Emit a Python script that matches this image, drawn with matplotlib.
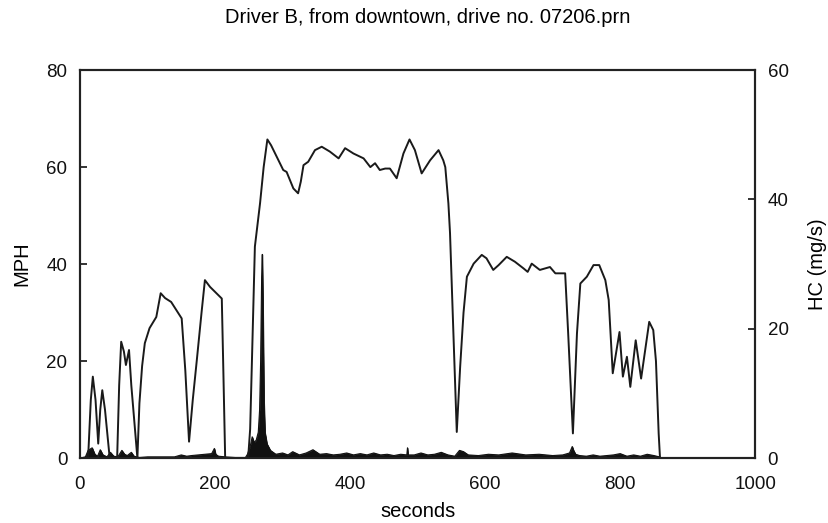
import matplotlib
matplotlib.use('Agg')
import matplotlib.pyplot as plt

plt.rcParams['font.family'] = ['Liberation Sans', 'DejaVu Sans']

# speed trace (seconds, MPH)
speed_t = [0, 12, 16, 19, 23, 27, 30, 33, 37, 44, 55, 58, 61, 65, 68, 72.6, 76, 85,
           88, 92, 96, 103, 113, 119.5, 126, 135, 150.6, 156, 161.5, 167, 173, 180, 185, 192.6, 210, 212, 215,
           249, 252, 255, 259, 266.7, 272, 277.5, 283, 289, 301, 306, 316, 323, 327, 331, 338, 348, 358, 370,
           383, 392.6, 405, 420, 430, 437, 444, 452, 459, 469, 479, 488, 496, 506, 518.5, 531,
           538, 541, 545.6, 548, 553, 558, 563, 568, 573, 583, 595, 602, 612, 620, 632, 644,
           657, 663, 669, 681, 696, 704, 718.5, 723, 730, 736, 741, 750.6, 760.5, 769, 778,
           783, 789, 799, 804, 810, 815, 823, 831, 843, 849, 853, 857, 859]
speed_v = [0, 0, 12, 16.8, 12, 3, 10, 14, 10, 0, 0, 15, 24, 22, 19.2, 22.3, 15, 0,
           11.3, 19, 23.7, 26.8, 29.1, 34, 33, 32.2, 28.8, 18, 3.4, 12, 20.2, 30, 36.7, 35.3, 32.9, 20, 0,
           0, 6, 22, 43.6, 52.6, 60, 65.7, 64.5, 62.8, 59.4, 59, 55.6, 54.6, 57, 60.4, 61.1, 63.5, 64.2, 63.2,
           61.8, 63.9, 62.8, 61.8, 60, 60.8, 59.4, 59.7, 59.7, 57.7, 62.8, 65.7, 63.5, 58.7, 61.4, 63.5,
           61.4, 60, 52.5, 46.4, 25.8, 5.4, 18.8, 30, 37.4, 40.1, 41.9, 41.2, 38.8, 39.8, 41.5, 40.5,
           39.1, 38.4, 40.1, 38.8, 39.4, 38.1, 38.1, 25.7, 5.1, 25.7, 36, 37.4, 39.8, 39.8, 36.7,
           32.6, 17.5, 26, 16.8, 20.9, 14.7, 24.3, 16.4, 28.1, 26.4, 20, 5.1, 0]

# HC emissions (seconds, mg/s)
hc_t = [0, 8, 12, 18, 22, 26, 30, 34, 40, 45, 50, 56, 62, 66, 70, 76, 80, 88,
        100, 120, 140, 150, 158, 165, 175, 185, 195, 199, 201, 205, 215, 230, 245,
        248, 252, 255, 258, 261, 264, 266, 267.5, 269, 270, 271, 272.5, 274, 277, 282,
        290, 300, 308, 315, 325, 335, 345, 355, 365, 375, 385, 395, 405, 415, 425,
        435, 445, 455, 465, 475, 484, 485, 486, 495, 505, 515, 525, 535, 545, 555,
        562, 568, 575, 590, 605, 620, 640, 660, 680, 700, 715, 725, 729, 731, 734,
        740, 750, 760, 770, 780, 790, 800, 810, 820, 830, 840, 850, 858, 862]
hc_v = [0, 0.2, 1.2, 1.6, 0.6, 0.3, 1.3, 0.5, 0.2, 0.9, 0.3, 0.2, 1.2, 0.6, 0.4, 0.9, 0.3, 0.1,
        0.2, 0.2, 0.2, 0.5, 0.3, 0.4, 0.5, 0.6, 0.7, 1.5, 0.6, 0.3, 0.2, 0.1, 0.1,
        0.6, 1.8, 3.3, 2.4, 2.8, 4.0, 7.5, 15, 28, 31.5, 24, 9, 4, 2.2, 1.2,
        0.6, 0.8, 0.5, 1.0, 0.5, 0.8, 1.3, 0.6, 0.7, 0.5, 0.6, 0.8, 0.5, 0.7, 0.5,
        0.8, 0.5, 0.6, 0.4, 0.6, 0.5, 1.6, 0.5, 0.5, 0.8, 0.5, 0.6, 0.9, 0.5, 0.3,
        1.2, 1.0, 0.5, 0.4, 0.6, 0.5, 0.8, 0.5, 0.6, 0.4, 0.5, 0.8, 1.8, 1.2, 0.6,
        0.4, 0.3, 0.5, 0.3, 0.4, 0.5, 0.7, 0.3, 0.5, 0.3, 0.6, 0.4, 0.2, 0]

x_ticks = [0, 200, 400, 600, 800, 1000]
mph_ticks = [0, 20, 40, 60, 80]
hc_ticks = [0, 20, 40, 60]

fig = plt.figure(figsize=(8.29, 5.23), dpi=100)
ax = fig.add_axes([0.0965, 0.124, 0.8145, 0.742])
ax2 = ax.twinx()

# HC as filled black trace on the right axis, speed line drawn on top
ax2.fill_between(hc_t, 0, hc_v, color='#111111', lw=0.6)
ax2.plot(hc_t, hc_v, color='#111111', lw=0.8)
ax.plot(speed_t, speed_v, color='#1a1a1a', lw=1.4)
ax.set_zorder(ax2.get_zorder() + 1)
ax.patch.set_visible(False)

ax.set_xlim(0, 1000)
ax.set_ylim(0, 80)
ax2.set_ylim(0, 60)
ax.set_xticks(x_ticks)
ax.set_yticks(mph_ticks)
ax2.set_yticks(hc_ticks)

for a in (ax, ax2):
    a.tick_params(direction='in', length=5, width=1.2, labelsize=13.5, colors='#111111', pad=9)
    for s in a.spines.values():
        s.set_linewidth(1.5)
        s.set_color('#222222')
ax.tick_params(axis='x', length=0, pad=13)

ax.set_xlabel('seconds', fontsize=14.5, labelpad=6)
ax.set_ylabel('MPH', fontsize=14.5, labelpad=11)
ax2.set_ylabel('HC (mg/s)', fontsize=14.5, labelpad=14)
fig.suptitle('Driver B, from downtown, drive no. 07206.prn', fontsize=14.5, x=0.516, y=0.985)

fig.savefig('out.png', dpi=100)
